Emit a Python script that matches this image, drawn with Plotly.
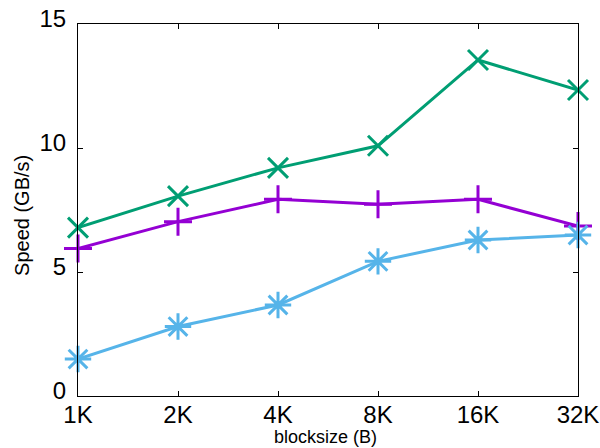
import plotly.graph_objects as go

# Block sizes tested and measured throughput (GB/s) per variant
blocksizes = ["1K", "2K", "4K", "8K", "16K", "32K"]
speed_purple = [5.95, 7.03, 7.93, 7.73, 7.93, 6.85]
speed_green = [6.79, 8.06, 9.20, 10.09, 13.55, 12.34]
speed_blue = [1.49, 2.80, 3.67, 5.43, 6.29, 6.49]

y_ticks = [0, 5, 10, 15]

FONT = "Liberation Sans, Arial, sans-serif"

series = [
    (speed_purple, "#9400d3", "cross-thin-open", 20),
    (speed_green, "#009e73", "x-thin-open", 20),
    (speed_blue, "#56b4e9", "asterisk-open", 22),
]

fig = go.Figure()
for values, color, symbol, size in series:
    fig.add_trace(go.Scatter(
        x=blocksizes,
        y=values,
        mode="lines+markers",
        line=dict(color=color, width=3),
        marker=dict(symbol=symbol, size=size, color=color,
                    line=dict(color=color, width=3)),
        cliponaxis=False,
        showlegend=False,
    ))

axis_common = dict(
    showgrid=False,
    zeroline=False,
    showline=True,
    linecolor="black",
    linewidth=1,
    mirror="ticks",
    ticks="inside",
    ticklen=5,
    tickcolor="black",
    tickwidth=1,
    automargin=False,
    tickfont=dict(family=FONT, size=24, color="black"),
)

fig.update_layout(
    width=600,
    height=448,
    margin=dict(l=78, r=22, t=24, b=52),
    paper_bgcolor="white",
    plot_bgcolor="white",
    xaxis=dict(
        type="category",
        range=[0, len(blocksizes) - 1],
        ticklabelstandoff=-3,
        **axis_common,
    ),
    yaxis=dict(
        range=[0, 15],
        tickvals=y_ticks,
        ticklabelstandoff=6,
        ticklabelshift=-5,
        **axis_common,
    ),
    annotations=[
        dict(text="blocksize (B)", xref="paper", yref="paper",
             x=0.494, y=-0.1105, xanchor="center", yanchor="middle",
             showarrow=False, borderpad=0,
             font=dict(family=FONT, size=18, color="black")),
        dict(text="Speed (GB/s)", xref="paper", yref="paper",
             x=-0.112, y=0.484, xanchor="center", yanchor="middle",
             textangle=-90, showarrow=False,
             font=dict(family=FONT, size=20, color="black")),
    ],
)

fig.write_html("out.html")
